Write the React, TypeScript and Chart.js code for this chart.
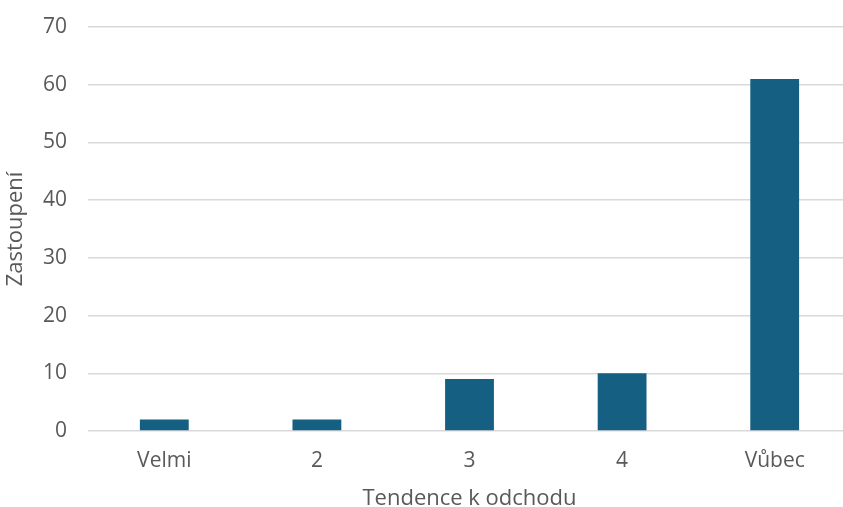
import React, { useEffect, useRef } from "react";
import { Chart, registerables } from "chart.js";

Chart.register(...registerables);

const categories = ["Velmi", "2", "3", "4", "Vůbec"];
const counts = [2, 2, 9, 10, 61];
const yMax = 70;
const yStep = 10;

const BAR_COLOR = "#156082";
const TEXT_COLOR = "#595959";
const GRID_COLOR = "#d9d9d9";
const FONT_FAMILY = "'Open Sans', 'Noto Sans', sans-serif";

export default function App() {
  const canvasRef = useRef<HTMLCanvasElement | null>(null);

  useEffect(() => {
    const canvas = canvasRef.current;
    if (!canvas) return;
    const chart = new Chart(canvas, {
      type: "bar",
      data: {
        labels: categories,
        datasets: [
          {
            label: "Zastoupení",
            data: counts,
            backgroundColor: BAR_COLOR,
            borderWidth: 0,
            barPercentage: 0.32,
            categoryPercentage: 1,
          },
        ],
      },
      options: {
        responsive: false,
        animation: false,
        layout: { padding: { top: 27, right: 0, left: 0, bottom: 0 } },
        plugins: {
          legend: { display: false },
          tooltip: { enabled: false },
        },
        scales: {
          x: {
            grid: { display: false, drawTicks: false },
            border: { display: false },
            ticks: {
              color: TEXT_COLOR,
              font: { family: FONT_FAMILY, size: 21 },
              padding: 17,
              maxRotation: 0,
            },
            title: {
              display: true,
              text: "Tendence k odchodu",
              color: TEXT_COLOR,
              font: { family: FONT_FAMILY, size: 22 },
              padding: { top: 0, bottom: -5 },
            },
            afterFit: (scale: any) => {
              scale.height = 76;
            },
          },
          y: {
            min: 0,
            max: yMax,
            grid: { color: GRID_COLOR, lineWidth: 1.5, drawTicks: false },
            border: { display: false },
            ticks: {
              stepSize: yStep,
              color: TEXT_COLOR,
              font: { family: FONT_FAMILY, size: 21 },
              padding: 21,
            },
            title: {
              display: true,
              text: "Zastoupení",
              color: TEXT_COLOR,
              font: { family: FONT_FAMILY, size: 22 },
              padding: { top: 3, bottom: 0 },
            },
            afterFit: (scale: any) => {
              // fixed axis width; the top margin comes from the layout padding alone
              scale.width = 88;
              scale.paddingTop = 0;
            },
          },
        },
      },
    });
    return () => chart.destroy();
  }, []);

  return (
    <div
      style={{
        position: "fixed",
        left: 0,
        top: 0,
        width: 843,
        height: 507,
        overflow: "hidden",
        background: "#ffffff",
      }}
    >
      <canvas ref={canvasRef} width={851} height={507} style={{ display: "block" }} />
    </div>
  );
}
